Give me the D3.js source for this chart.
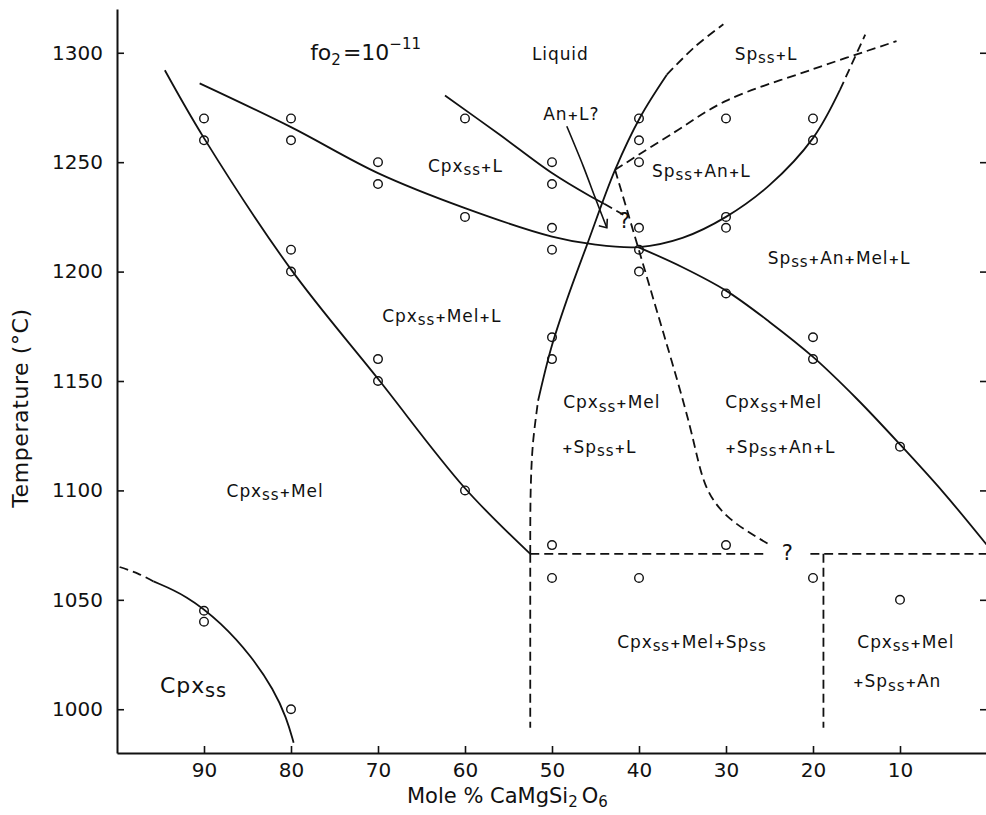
<!DOCTYPE html>
<html>
<head>
<meta charset="utf-8">
<script src="https://cdn.jsdelivr.net/npm/d3@7/dist/d3.min.js"></script>
<style>
  body { margin: 0; background: #fff; }
  svg { display: block; font-family: "DejaVu Sans", sans-serif; }
  .axis text { font-family: "DejaVu Sans", sans-serif; font-size: 20px; fill: #111; }
  .axis .domain { stroke: #111; stroke-width: 2; }
  .axis .tick line { stroke: #111; stroke-width: 1.6; }
</style>
</head>
<body>
<svg id="chart" width="986" height="815"></svg>
<script>
const tempTicks = [1000, 1050, 1100, 1150, 1200, 1250, 1300];
const moleTicks = [90, 80, 70, 60, 50, 40, 30, 20, 10];

// experimental runs (mole % CaMgSi2O6, temperature)
const runMole = [90, 90, 90, 90, 80, 80, 80, 80, 80, 70, 70, 70, 70, 60, 60, 60,
  50, 50, 50, 50, 50, 50, 50, 50, 40, 40, 40, 40, 40, 40, 40,
  30, 30, 30, 30, 30, 20, 20, 20, 20, 20, 10, 10];
const runTemp = [1270, 1260, 1045, 1040, 1270, 1260, 1210, 1200, 1000, 1250, 1240, 1160, 1150, 1270, 1225, 1100,
  1250, 1240, 1220, 1210, 1170, 1160, 1075, 1060, 1270, 1260, 1250, 1220, 1210, 1200, 1060,
  1270, 1225, 1220, 1190, 1075, 1270, 1260, 1170, 1160, 1060, 1120, 1050];

// phase boundaries, [mole %, temperature]
const cpxMelLine = [[94.5, 1292], [90, 1261], [80, 1201], [70, 1151], [60, 1101], [52.5, 1071]];
const liquidus = [[90.5, 1286], [80, 1266], [70, 1245], [60, 1229], [50, 1216], [45, 1212.3], [40, 1211.2],
  [35, 1215.4], [30, 1225], [25, 1239.5], [20, 1261], [16.9, 1283]];
const liquidusTop = [[16.9, 1283], [14, 1308.3]];
const melBase = [[52.5, 1071], [52.45, 1100], [52.2, 1121], [51.6, 1141]];
const melLine = [[51.6, 1141], [50.1, 1165], [48.3, 1187], [46, 1212], [42.75, 1246.5], [39.8, 1271], [36.8, 1290]];
const melTop = [[36.8, 1290], [33.5, 1303], [30.3, 1313]];
const cpxLLine = [[62.3, 1280.5], [56, 1262.5], [50, 1245], [45.6, 1234.4], [44, 1231]];
const cpxLEnd = [[44, 1231], [41.8, 1226]];
const anCurve = [[42.75, 1246.5], [40.1, 1211], [37.2, 1172], [34.2, 1130], [32.4, 1103], [29.5, 1087], [24.9, 1075]];
const spLine = [[42.75, 1246.5], [36, 1263.5], [30, 1278], [20, 1292.5], [10.4, 1305.3]];
const anMelLine = [[40.1, 1211.2], [35, 1202], [30, 1191.3], [25, 1177], [20, 1161], [15, 1142], [10, 1121], [5, 1099], [0, 1075]];
const cpxSolvusExt = [[99.7, 1065], [97.6, 1062], [95.8, 1058.4]];
const cpxSolvus = [[95.8, 1058.4], [92, 1052], [88, 1039.5], [84.5, 1024], [82, 1009], [80.5, 996], [79.7, 984.7]];
const solidusLeft = [[52.5, 1071], [25.3, 1071]];
const solidusRight = [[20.3, 1071], [18.8, 1071], [0, 1071]];
const wallLeft = [[52.5, 1071], [52.5, 991.5]];
const wallRight = [[18.8, 1071], [18.8, 991.5]];
const arrowPath = [[48.3, 1266.4], [46.4, 1248.1], [45.1, 1234.4], [43.7, 1220]];

// [points, dashed, curve]
const boundaries = [
  [cpxMelLine, false, "cr"], [liquidus, false, "cr"], [melLine, false, "cr"],
  [cpxLLine, false, "cr"], [anMelLine, false, "cr"], [cpxSolvus, false, "basis"],
  [liquidusTop, true, "cr"], [melBase, true, "cr"], [melTop, true, "cr"],
  [cpxLEnd, true, "cr"], [anCurve, true, "natural"], [spLine, true, "cr"],
  [cpxSolvusExt, true, "cr"], [solidusLeft, true, "cr"], [solidusRight, true, "cr"],
  [wallLeft, true, "cr"], [wallRight, true, "cr"]
];

// field labels: text, mole %, temperature, size ("_x_" = subscript)
const labels = [
  ["Liquid", 52.3, 1296.8, 17],
  ["Cpx_ss_+L", 64.25, 1245.5, 17],
  ["An+L?", 51.0, 1269.3, 17],
  ["?", 42.3, 1219.9, 21],
  ["Sp_ss_+L", 29.0, 1296.8, 17],
  ["Sp_ss_+An+L", 38.5, 1243.2, 17],
  ["Sp_ss_+An+Mel+L", 25.2, 1203.5, 17],
  ["Cpx_ss_+Mel+L", 69.5, 1177, 17],
  ["Cpx_ss_+Mel", 48.7, 1137.6, 17],
  ["+Sp_ss_+L", 48.85, 1117.1, 17],
  ["Cpx_ss_+Mel", 30.1, 1137.6, 17],
  ["+Sp_ss_+An+L", 30.1, 1117.1, 17],
  ["Cpx_ss_+Mel", 87.4, 1097, 17],
  ["Cpx_ss_", 95.05, 1007.4, 22],
  ["Cpx_ss_+Mel+Sp_ss_", 42.5, 1028, 17],
  ["Cpx_ss_+Mel", 14.9, 1028, 17],
  ["+Sp_ss_+An", 15.4, 1010, 17],
  ["?", 23.6, 1068.2, 21]
];

const svg = d3.select("#chart");
const x = d3.scaleLinear().domain([100, 0]).range([117, 987]);
const y = d3.scaleLinear().domain([980, 1320]).range([753, 9]);

// axes
svg.append("g").attr("class", "axis")
  .attr("transform", `translate(${x(100)},0)`)
  .call(d3.axisLeft(y).tickValues(tempTicks).tickFormat(d3.format("d"))
    .tickSize(-7).tickSizeOuter(0).tickPadding(14));
svg.append("g").attr("class", "axis")
  .attr("transform", `translate(${x(0)},0)`)
  .call(d3.axisRight(y).tickValues(tempTicks).tickSize(-7).tickSizeOuter(0).tickFormat(() => ""));
svg.append("g").attr("class", "axis")
  .attr("transform", `translate(0,${y(980)})`)
  .call(d3.axisBottom(x).tickValues(moleTicks).tickFormat(d3.format("d"))
    .tickSize(-7).tickSizeOuter(0).tickPadding(10));

svg.append("text")
  .attr("transform", "translate(28,408) rotate(-90)")
  .attr("text-anchor", "middle")
  .attr("font-size", 22)
  .attr("letter-spacing", 0.6)
  .attr("fill", "#111")
  .text("Temperature (°C)");

const xt = svg.append("text").attr("x", 407).attr("y", 803).attr("font-size", 21).attr("fill", "#111");
xt.append("tspan").text("Mole % CaMgSi");
xt.append("tspan").attr("dy", 4).attr("font-size", 15).text("2");
xt.append("tspan").attr("dy", -4).attr("dx", 4).text("O");
xt.append("tspan").attr("dy", 4).attr("font-size", 15).text("6");

// boundaries
const curves = {
  cr: d3.curveCatmullRom.alpha(0.5),
  natural: d3.curveNatural,
  basis: d3.curveBasis
};
const lineWith = c => d3.line()
  .x(d => x(d[0]))
  .y(d => y(d[1]))
  .curve(curves[c]);
const line = lineWith("cr");

svg.append("g").selectAll("path")
  .data(boundaries)
  .join("path")
  .attr("d", d => lineWith(d[2])(d[0]))
  .attr("fill", "none")
  .attr("stroke", "#111")
  .attr("stroke-width", 1.8)
  .attr("stroke-dasharray", d => d[1] ? "9,5" : null);

// runs
svg.append("g").selectAll("circle")
  .data(runMole)
  .join("circle")
  .attr("cx", d => x(d))
  .attr("cy", (d, i) => y(runTemp[i]))
  .attr("r", 4.3)
  .attr("fill", "none")
  .attr("stroke", "#111")
  .attr("stroke-width", 1.4);

// arrow from "An+L?"
svg.append("path")
  .attr("d", line(arrowPath))
  .attr("fill", "none")
  .attr("stroke", "#111")
  .attr("stroke-width", 1.6);
const tip = arrowPath[arrowPath.length - 1];
svg.append("path")
  .attr("transform", `translate(${x(tip[0])},${y(tip[1])})`)
  .attr("d", "M-8,-2L0,0L0.5,-9")
  .attr("fill", "none")
  .attr("stroke", "#111")
  .attr("stroke-width", 1.6);

// labels
function richText(g, str, size) {
  const t = g.append("text")
    .attr("font-size", size)
    .attr("letter-spacing", 0.9)
    .attr("fill", "#111");
  let base = 0;
  str.split("_").forEach((chunk, i) => {
    const sub = i % 2 === 1;
    chunk.split(/(\+)/).filter(s => s.length).forEach(s => {
      const plus = s === "+";
      const off = sub ? size * 0.2 : 0;
      t.append("tspan")
        .attr("dy", off - base)
        .attr("font-size", sub ? size * 0.88 : plus ? size * 0.75 : size)
        .attr("font-weight", plus ? "bold" : null)
        .text(s);
      base = off;
    });
  });
  return t;
}

const lg = svg.append("g");
labels.forEach(([txt, m, t, size]) => {
  richText(lg, txt, size).attr("x", x(m)).attr("y", y(t));
});

// fO2 note
const fo = svg.append("text").attr("x", x(77.8)).attr("y", y(1296.6)).attr("font-size", 22).attr("fill", "#111");
fo.append("tspan").text("fo");
fo.append("tspan").attr("dy", 5).attr("font-size", 15).text("2");
fo.append("tspan").attr("dy", -5).attr("dx", 2).text("=10");
fo.append("tspan").attr("dy", -11).attr("font-size", 15).text("−11");
</script>
</body>
</html>
